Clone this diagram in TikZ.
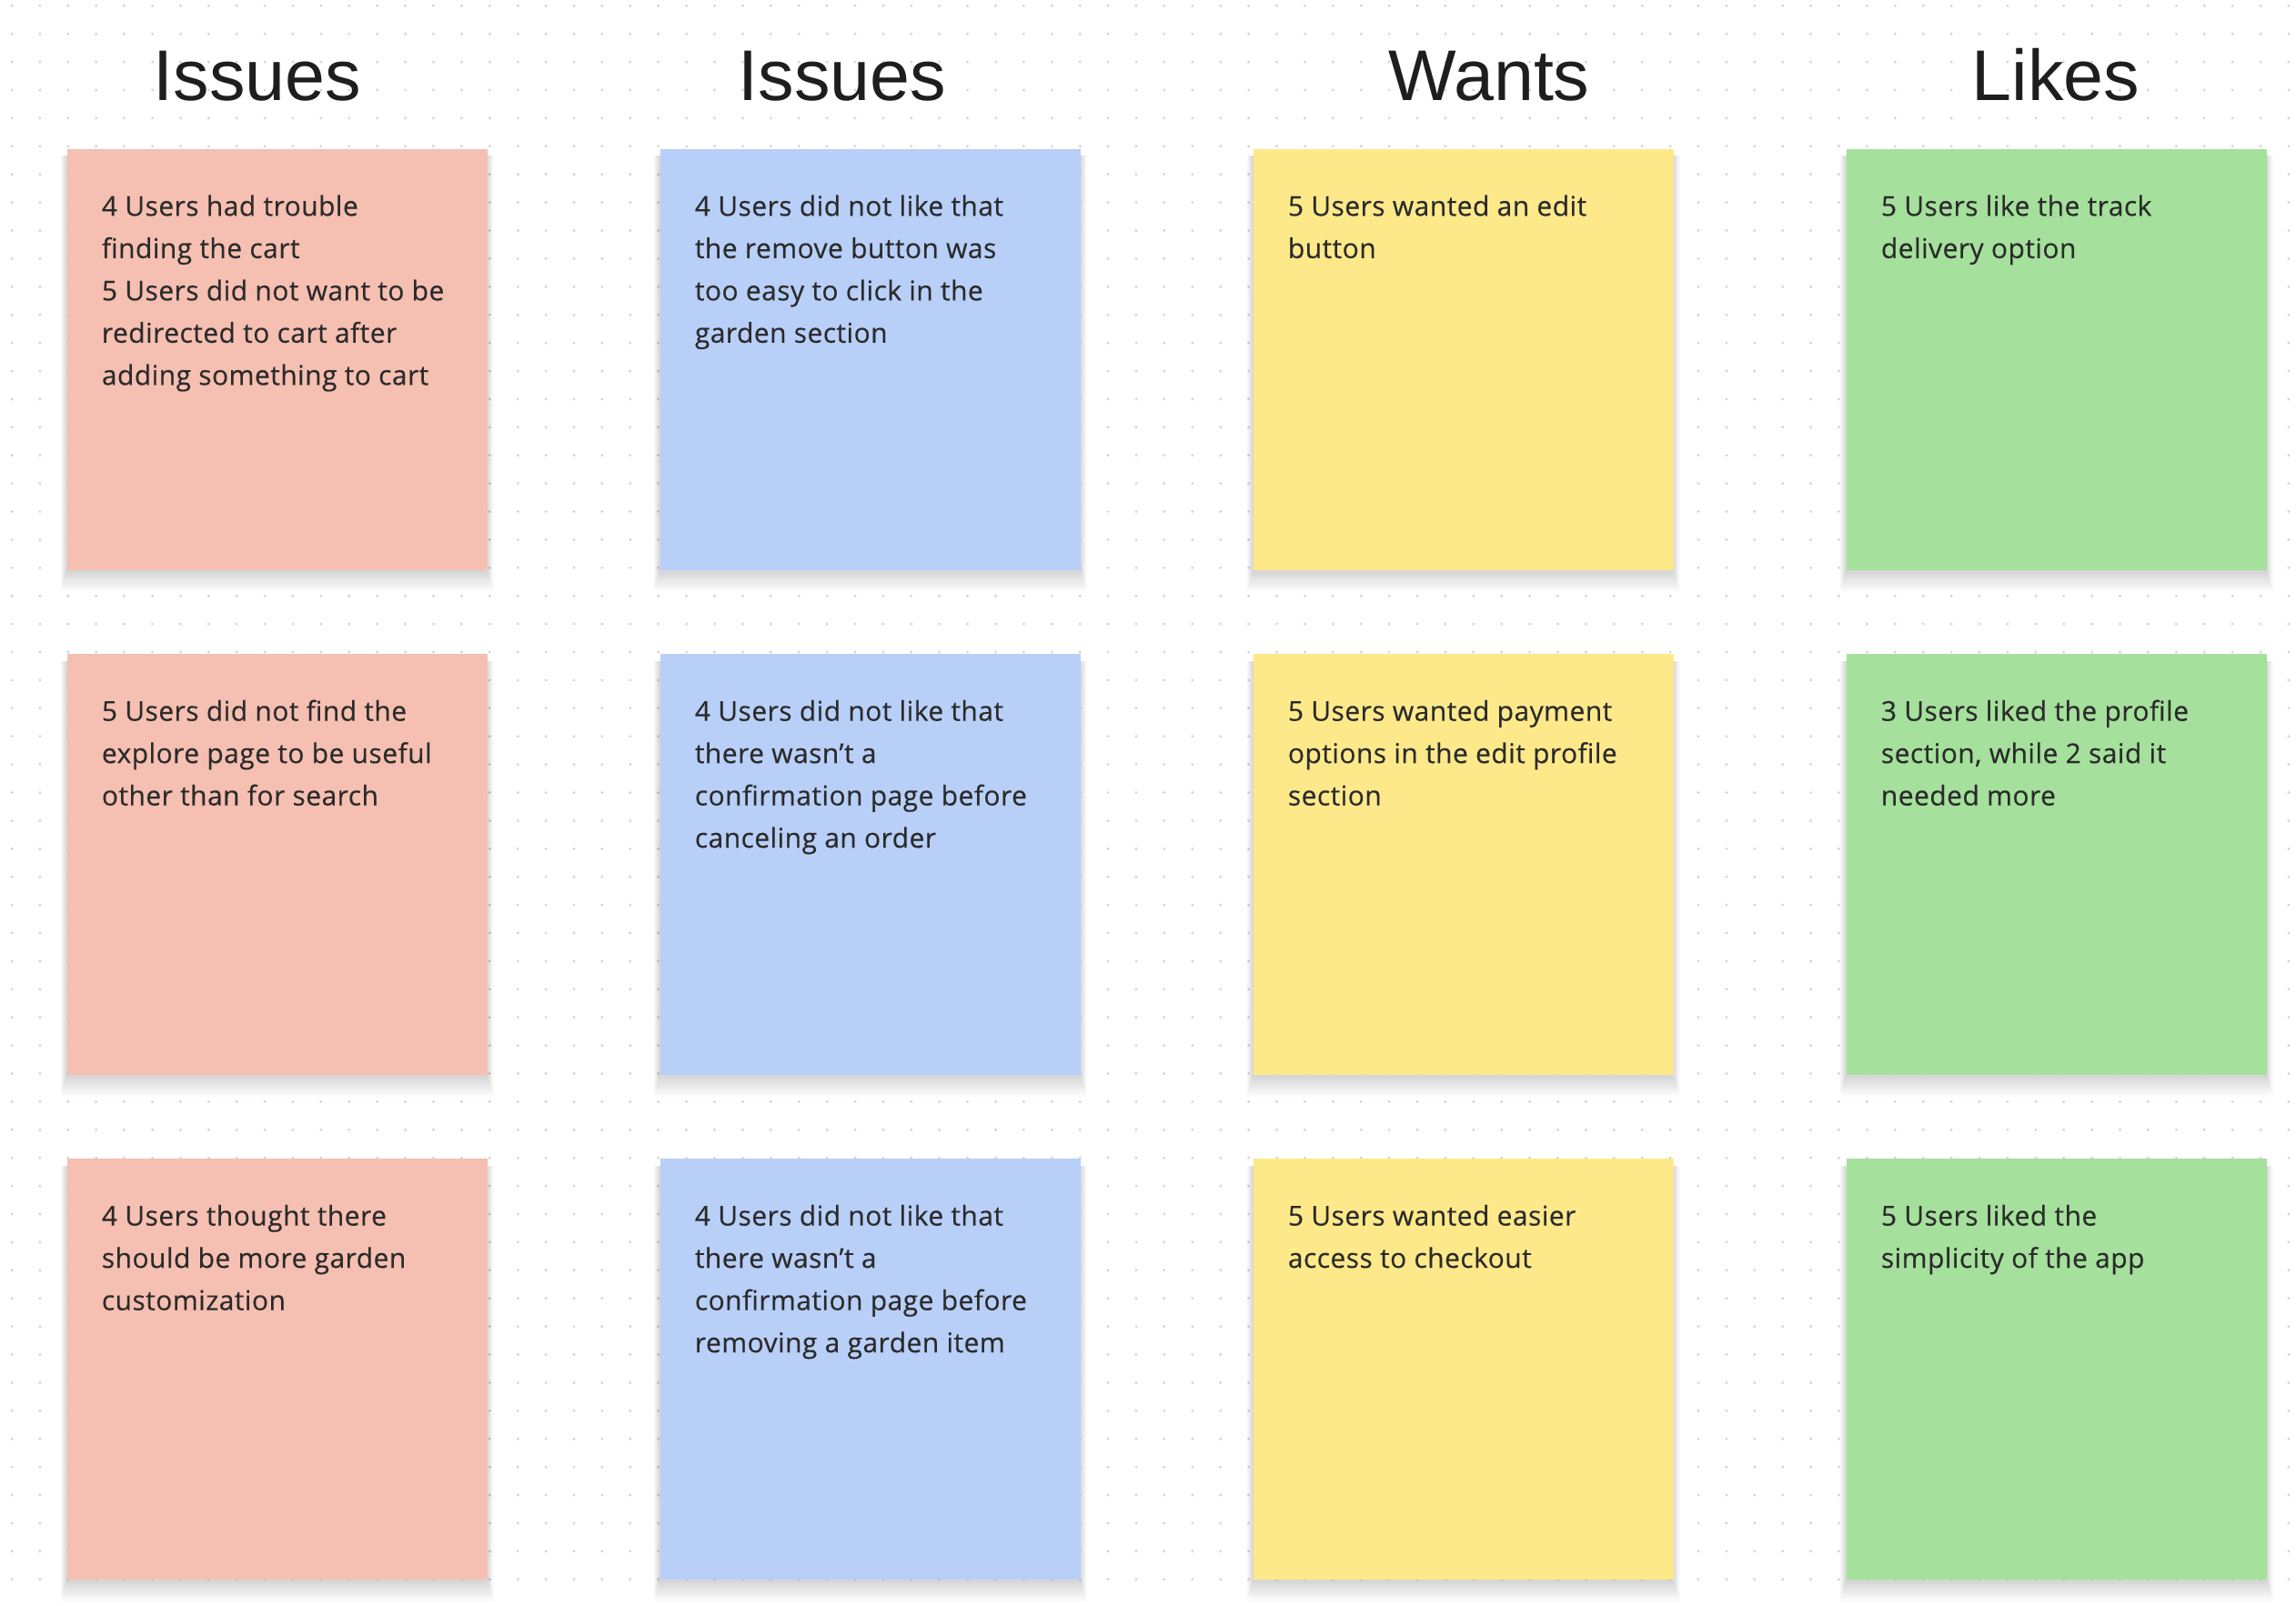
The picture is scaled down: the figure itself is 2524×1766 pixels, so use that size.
\documentclass[tikz,border=0pt]{standalone}
\usepackage{fontspec}
\setmainfont[LetterSpace=1.5,FakeBold=0.3]{Open Sans}
\newfontfamily\headfont{Liberation Sans}
\usetikzlibrary{calc}
\definecolor{pinkn}{HTML}{F5BFB1}
\definecolor{bluen}{HTML}{B8CFF8}
\definecolor{yellown}{HTML}{FDE98A}
\definecolor{greenn}{HTML}{A5E09C}
\definecolor{dotc}{HTML}{D4D4D4}
\definecolor{txt}{HTML}{2B2B2B}
\definecolor{head}{HTML}{1E1E1E}
\tikzset{
 note/.style={draw=none, anchor=north west, minimum width=231pt, minimum height=231.5pt, inner sep=0pt},
 notetxt/.style={anchor=base west, inner sep=0pt, text=txt, font=\fontsize{15pt}{23.25pt}\selectfont},
 heading/.style={anchor=base, inner sep=0pt, text=head, font=\headfont\fontsize{39.5pt}{46pt}\selectfont},
 shadowlayer/.style={fill=black, opacity=0.014},
}
\newcommand\nt[1]{\parbox[t]{225pt}{\raggedright #1}}
\newcommand\sticky[5]{%
 \foreach \k in {1,...,10}{%
   \fill[shadowlayer] ($(#2,#3)+(-0.35*\k pt,-4pt)$) rectangle ($(#2,#3)+(231pt+0.35*\k pt,-231.5pt-1pt-1.1*\k pt)$);}
 \node[note, fill=#4] (#1) at (#2,#3) {};
 \node[notetxt] (#1t) at ([xshift=19pt,yshift=-37pt]#1.north west) {\nt{#5}};
}
\begin{document}
\begin{tikzpicture}[x=0.5pt,y=-0.5pt]
\useasboundingbox (0,0) rectangle (2524,1766);
\fill[white] (0,0) rectangle (2524,1766);
\foreach \i in {0,...,81}{\foreach \j in {0,...,56}{\fill[dotc] ({13+30.9*\i},{6.3+30.9*\j}) circle[radius=0.8pt];}}
% headings
\node[heading] (h1) at (283,110.5) {Issues};
\node[heading] (h2) at (926,110.5) {Issues};
\node[heading] (h3) at (1637,110.5) {Wants};
\node[heading] (h4) at (2260,110.5) {Likes};
% column 1
\sticky{a1}{73.5}{163.3}{pinkn}{4 Users had trouble\\finding the cart\\5 Users did not want to be\\redirected to cart after\\adding something to cart}
\sticky{a2}{73.5}{718.6}{pinkn}{5 Users did not find the\\explore page to be useful\\other than for search}
\sticky{a3}{73.5}{1273.6}{pinkn}{4 Users thought there\\should be more garden\\customization}
% column 2
\sticky{b1}{725.5}{163.3}{bluen}{4 Users did not like that\\the remove button was\\too easy to click in the\\garden section}
\sticky{b2}{725.5}{718.6}{bluen}{4 Users did not like that\\there wasn’t a\\confirmation page before\\canceling an order}
\sticky{b3}{725.5}{1273.6}{bluen}{4 Users did not like that\\there wasn’t a\\confirmation page before\\removing a garden item}
% column 3
\sticky{c1}{1377.5}{163.3}{yellown}{5 Users wanted an edit\\button}
\sticky{c2}{1377.5}{718.6}{yellown}{5 Users wanted payment\\options in the edit profile\\section}
\sticky{c3}{1377.5}{1273.6}{yellown}{5 Users wanted easier\\access to checkout}
% column 4
\sticky{d1}{2029.5}{163.3}{greenn}{5 Users like the track\\delivery option}
\sticky{d2}{2029.5}{718.6}{greenn}{3 Users liked the profile\\section, while 2 said it\\needed more}
\sticky{d3}{2029.5}{1273.6}{greenn}{5 Users liked the\\simplicity of the app}
\end{tikzpicture}
\end{document}
